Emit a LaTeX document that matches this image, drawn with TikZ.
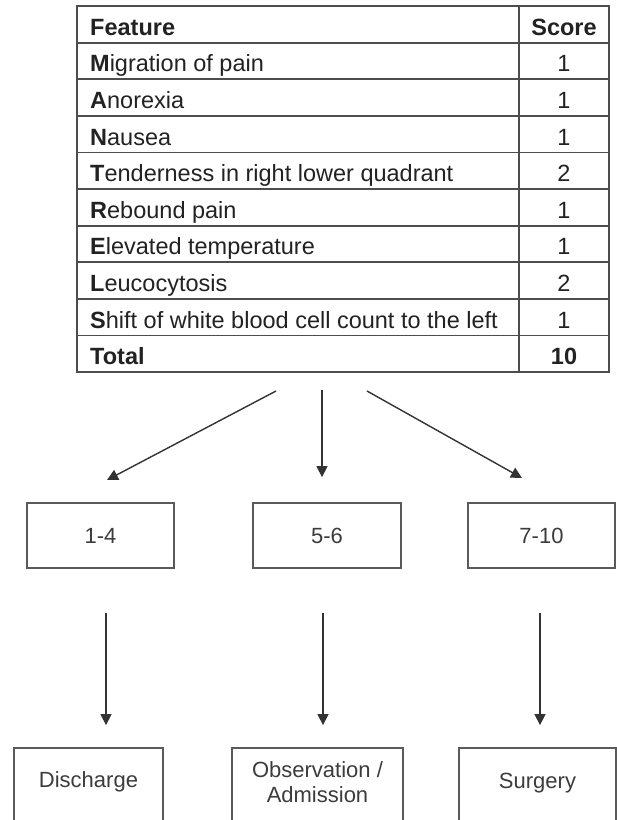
\documentclass[tikz,border=0pt]{standalone}
\usepackage{fontspec}
\setmainfont{Liberation Sans}
\usetikzlibrary{arrows.meta,calc}
\definecolor{linegray}{HTML}{4D4D4D}
\definecolor{boxgray}{HTML}{5A5A5A}
\definecolor{txt}{HTML}{222222}
\definecolor{boxtxt}{HTML}{3C3C3C}
\begin{document}
\begin{tikzpicture}[x=1pt,y=-1pt,
 tline/.style={draw=linegray, line width=1.8pt},
 cell/.style={anchor=base west, inner sep=0pt, text=txt, font=\fontsize{23.5}{28}\selectfont},
 scorecell/.style={anchor=base, inner sep=0pt, text=txt, font=\fontsize{23.5}{28}\selectfont},
 rbox/.style={draw=boxgray, line width=1.8pt, rectangle, inner sep=0pt},
 btext/.style={text=boxtxt, font=\fontsize{22}{25}\selectfont, align=center, inner sep=0pt},
 arr/.style={draw=black!80, line width=1.4pt, -{Triangle[width=11pt,length=11pt]}}
]
\useasboundingbox (0,0) rectangle (617,820);
\clip (0,0) rectangle (617,820);
\fill[white] (0,0) rectangle (617,820);

% table frame
\node[tline, rectangle, inner sep=0pt, minimum width=532pt, minimum height=366pt] (tbl) at (343,189) {};
\foreach \k in {1,...,9} {
  \draw[tline] (77,{6+36.6*\k}) -- (609,{6+36.6*\k});
}
\draw[tline] (519,6) -- (519,372);

% table texts
\node[cell] (f0) at (90,{6+29.3}) {\textbf{Feature}};
\node[scorecell] (s0) at (564,{6+29.3}) {\textbf{Score}};
\node[cell] (f1) at (90,{6+36.6*1+29.3}) {\textbf{M}igration of pain};
\node[scorecell] (s1) at (564,{6+36.6*1+29.3}) {1};
\node[cell] (f2) at (90,{6+36.6*2+29.3}) {\textbf{A}norexia};
\node[scorecell] (s2) at (564,{6+36.6*2+29.3}) {1};
\node[cell] (f3) at (90,{6+36.6*3+29.3}) {\textbf{N}ausea};
\node[scorecell] (s3) at (564,{6+36.6*3+29.3}) {1};
\node[cell] (f4) at (90,{6+36.6*4+29.3}) {\textbf{T}enderness in right lower quadrant};
\node[scorecell] (s4) at (564,{6+36.6*4+29.3}) {2};
\node[cell] (f5) at (90,{6+36.6*5+29.3}) {\textbf{R}ebound pain};
\node[scorecell] (s5) at (564,{6+36.6*5+29.3}) {1};
\node[cell] (f6) at (90,{6+36.6*6+29.3}) {\textbf{E}levated temperature};
\node[scorecell] (s6) at (564,{6+36.6*6+29.3}) {1};
\node[cell] (f7) at (90,{6+36.6*7+29.3}) {\textbf{L}eucocytosis};
\node[scorecell] (s7) at (564,{6+36.6*7+29.3}) {2};
\node[cell] (f8) at (90,{6+36.6*8+29.3}) {\textbf{S}hift of white blood cell count to the left};
\node[scorecell] (s8) at (564,{6+36.6*8+29.3}) {1};
\node[cell] (f9) at (90,{6+36.6*9+29.3}) {\textbf{Total}};
\node[scorecell] (s9) at (564,{6+36.6*9+29.3}) {\textbf{10}};

% score range boxes
\node[rbox, btext, minimum width=147pt, minimum height=65pt] (b1) at (100.5,535.5) {1-4};
\node[rbox, btext, minimum width=148pt, minimum height=65pt] (b2) at (327,535.5) {5-6};
\node[rbox, btext, minimum width=147pt, minimum height=65pt] (b3) at (541.5,535.5) {7-10};

% outcome boxes
\node[rbox, minimum width=149pt, minimum height=100pt] (d1) at (88.5,798) {};
\node[rbox, minimum width=171pt, minimum height=100pt] (d2) at (317.5,798) {};
\node[rbox, minimum width=157pt, minimum height=100pt] (d3) at (537.5,798) {};
\node[btext] (d1t) at (88.5,782) {Discharge};
\node[btext] (d2t) at (317.5,782) {Observation /\\Admission};
\node[btext] (d3t) at (537.5,783) {Surgery};

% arrows from table
\coordinate (a1) at (276,391);
\coordinate (a2) at (322,390);
\coordinate (a3) at (367,391);
\coordinate (e1) at (107,480);
\coordinate (e3) at (522,478);
\draw[arr] (a1) -- (e1);
\draw[arr, shorten >=25pt] (a2) -- (a2 |- b2.north);
\draw[arr] (a3) -- (e3);

% arrows to outcomes
\coordinate (c1) at (106,613);
\coordinate (c2) at (323,613);
\coordinate (c3) at (540,613);
\draw[arr, shorten >=22pt] (c1) -- (c1 |- d1.north);
\draw[arr, shorten >=22pt] (c2) -- (c2 |- d2.north);
\draw[arr, shorten >=22pt] (c3) -- (c3 |- d3.north);
\end{tikzpicture}
\end{document}
